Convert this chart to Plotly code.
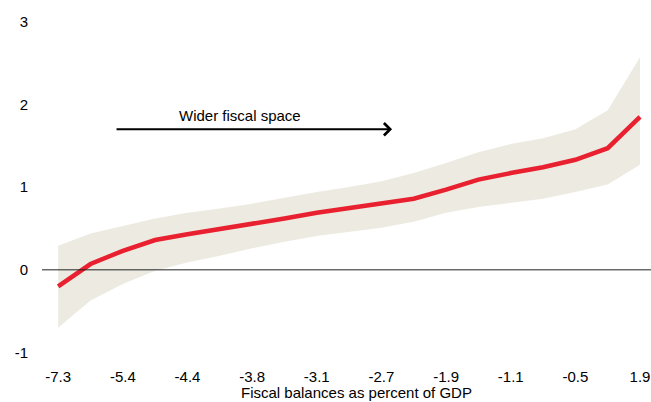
import plotly.graph_objects as go

categories = ["-7.3", "-6.2", "-5.4", "-4.8", "-4.4", "-4.1", "-3.8", "-3.4", "-3.1", "-2.9",
              "-2.7", "-2.3", "-1.9", "-1.5", "-1.1", "-0.8", "-0.5", "0.4", "1.9"]
estimate = [-0.20, 0.07, 0.23, 0.36, 0.43, 0.49, 0.55, 0.62, 0.69, 0.75,
            0.80, 0.86, 0.97, 1.09, 1.17, 1.24, 1.33, 1.47, 1.85]
upper = [0.29, 0.44, 0.53, 0.62, 0.69, 0.74, 0.80, 0.87, 0.94, 1.00,
         1.07, 1.17, 1.29, 1.42, 1.52, 1.59, 1.70, 1.93, 2.57]
lower = [-0.70, -0.37, -0.17, -0.01, 0.09, 0.17, 0.26, 0.34, 0.41, 0.46,
         0.51, 0.58, 0.69, 0.76, 0.81, 0.86, 0.94, 1.03, 1.27]
tick_labels = categories[::2]
y_ticks = [-1, 0, 1, 2, 3]
y_tick_labels = ["-1", "0", "1", "2", "3"]
x_title = "Fiscal balances as percent of GDP"

FONT = "Arial, Liberation Sans, sans-serif"

fig = go.Figure()
fig.add_trace(go.Scatter(x=categories, y=lower, mode="lines", line=dict(width=0),
                         showlegend=False, hoverinfo="skip"))
fig.add_trace(go.Scatter(x=categories, y=upper, mode="lines", line=dict(width=0),
                         fill="tonexty", fillcolor="#EDEBE1", showlegend=False, hoverinfo="skip"))
fig.add_trace(go.Scatter(x=categories, y=estimate, mode="lines",
                         line=dict(color="#E8202F", width=4.5), showlegend=False))

fig.add_shape(type="line", xref="paper", yref="y", x0=0, x1=1, y0=0, y1=0,
              line=dict(color="#222222", width=1), layer="above")

fig.add_annotation(x=10.33, y=1.70, ax=1.76, ay=1.70, xref="x", yref="y", axref="x", ayref="y",
                   showarrow=True, arrowhead=4, arrowsize=1.2, arrowwidth=2, arrowcolor="#000000", text="")
fig.add_annotation(x=5.63, y=1.87, xref="x", yref="y", text="Wider fiscal space", showarrow=False,
                   font=dict(family=FONT, size=15, color="#000000"))
fig.add_annotation(x=0.5156, y=0, xref="paper", yref="paper", yanchor="middle", yshift=-32,
                   text=x_title, showarrow=False, font=dict(family=FONT, size=15, color="#000000"))

fig.update_layout(
    width=651, height=402,
    margin=dict(l=42, r=0, t=20, b=42),
    paper_bgcolor="white", plot_bgcolor="white",
    font=dict(family=FONT, size=15, color="#000000"),
    xaxis=dict(type="category", range=[-0.5, 18.34], tickmode="array", tickvals=tick_labels,
               ticktext=tick_labels, showgrid=False, zeroline=False, showline=False,
               ticks="outside", ticklen=3, tickcolor="rgba(0,0,0,0)", automargin=False,
               tickfont=dict(family=FONT, size=15)),
    yaxis=dict(range=[-1.09, 3.02], tickmode="array", tickvals=y_ticks, ticktext=y_tick_labels,
               showgrid=False, zeroline=False,
               showline=False, ticks="outside", ticklen=10, tickcolor="rgba(0,0,0,0)",
               tickfont=dict(family=FONT, size=15), automargin=False),
)

fig.write_html("out.html", config={"displayModeBar": False},
               post_script="document.body.style.margin='0';document.body.style.overflow='hidden';")
